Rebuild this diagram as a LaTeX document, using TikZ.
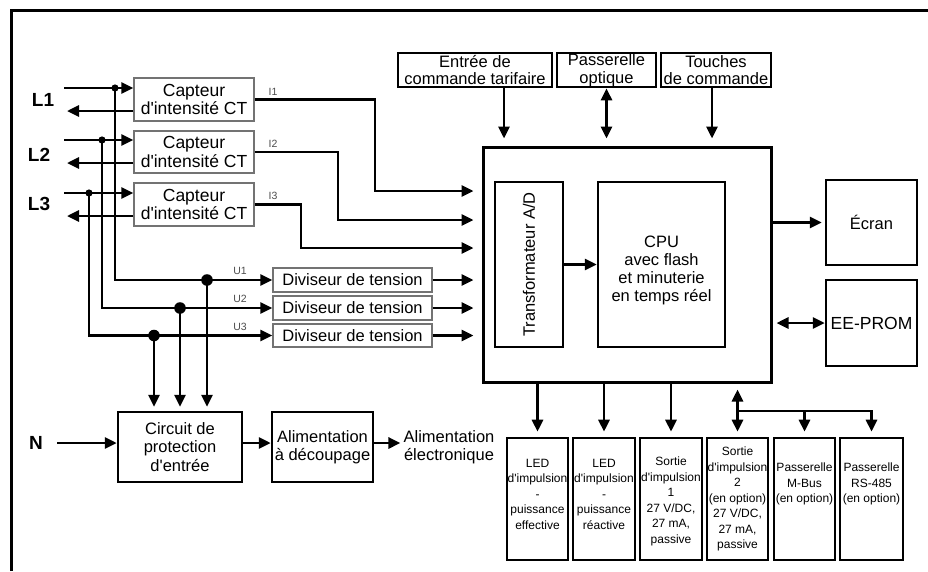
\documentclass[tikz,border=0pt]{standalone}
\usepackage{fontspec}
\setmainfont{Liberation Sans}[Ligatures=TeXOff]
\usetikzlibrary{arrows.meta,calc}
\begin{document}
\begin{tikzpicture}[x=1pt,y=-1pt,
  conn/.style={line width=2.8pt},
  arr/.style={conn,-{Triangle[length=12pt,width=11pt]}},
  darr/.style={conn,{Triangle[length=12pt,width=11pt]}-{Triangle[length=12pt,width=11pt]}},
  thinbox/.style={draw=black!55,line width=1.3pt,inner sep=0pt,align=center,font=\fontsize{16.5}{18}\selectfont},
  ctbox/.style={thinbox,font=\fontsize{17.5}{18.5}\selectfont},
  box/.style={draw,line width=2.5pt,inner sep=0pt,align=center,font=\fontsize{16.5}{18.5}\selectfont},
  topbox/.style={box,line width=2.7pt,minimum height=34pt,font=\fontsize{16.5}{17.5}\selectfont},
  bbox/.style={draw,line width=2.6pt,inner sep=0pt,minimum height=122pt},
  btext/.style={align=center,inner sep=0pt,font=\fontsize{12}{15.5}\selectfont},
  ctext/.style={align=center,inner sep=0pt,font=\fontsize{16.5}{18}\selectfont},
  plain/.style={align=center,inner sep=0pt,font=\fontsize{16.5}{18}\selectfont},
  lab/.style={inner sep=0pt,font=\fontsize{19}{19}\selectfont\bfseries},
  sig/.style={inner sep=0pt,text=black!70,font=\fontsize{10.5}{10.5}\selectfont}
]
\useasboundingbox (0,0) rectangle (928,571);
% frame
\draw[line width=3pt] (11,571) -- (11,10) -- (928,10);

% phase labels
\node[lab] (L1) at (43,100) {L1};
\node[lab] (L2) at (39,155) {L2};
\node[lab] (L3) at (39,204) {L3};
\node[lab] (N) at (36,443) {N};

% current sensors
\node[ctbox,minimum width=120pt,minimum height=43pt] (ct1) at (194,99.5) {Capteur\\d'intensité CT};
\node[ctbox,minimum width=120pt,minimum height=42pt] (ct2) at (194,152) {Capteur\\d'intensité CT};
\node[ctbox,minimum width=120pt,minimum height=43pt] (ct3) at (194,204.5) {Capteur\\d'intensité CT};

\coordinate (l1i) at (64,88);  \coordinate (l1o) at (67,111);
\coordinate (l2i) at (64,140); \coordinate (l2o) at (67,163);
\coordinate (l3i) at (64,193); \coordinate (l3o) at (67,216);

\draw[arr] (l1i) -- (l1i -| ct1.west);
\draw[arr] (l1o -| ct1.west) -- (l1o);
\draw[arr] (l2i) -- (l2i -| ct2.west);
\draw[arr] (l2o -| ct2.west) -- (l2o);
\draw[arr] (l3i) -- (l3i -| ct3.west);
\draw[arr] (l3o -| ct3.west) -- (l3o);

% voltage dividers
\node[thinbox,minimum width=159pt,minimum height=24pt] (dv1) at (352.5,280) {Diviseur de tension};
\node[thinbox,minimum width=159pt,minimum height=24pt] (dv2) at (352.5,308) {Diviseur de tension};
\node[thinbox,minimum width=159pt,minimum height=23pt] (dv3) at (352.5,335.5) {Diviseur de tension};

\coordinate (j1) at (115,88);
\coordinate (j2) at (102,140);
\coordinate (j3) at (89,193);
\draw[arr] (j1) |- (dv1.west);
\draw[arr] (j2) |- (dv2.west);
\draw[arr] (j3) |- (dv3.west);
\fill (j1) circle (3.6pt);
\fill (j2) circle (3.6pt);
\fill (j3) circle (3.6pt);

\node[sig] (u1l) at (240,271) {U1};
\node[sig] (u2l) at (240,299) {U2};
\node[sig] (u3l) at (240,327) {U3};

% protection and power supply
\node[box,minimum width=124pt,minimum height=70pt] (prot) at (180,447) {Circuit de\\protection\\d'entrée};
\node[box,minimum width=101pt,minimum height=70pt] (alim) at (322.5,447) {Alimentation\\à découpage};
\node[plain] (elec) at (449,447) {Alimentation\\électronique};

\coordinate (u1) at (207,280);
\coordinate (u2) at (180,308);
\coordinate (u3) at (154,335.5);
\draw[arr,shorten >=4pt] (u1) -- (u1 |- prot.north);
\draw[arr,shorten >=4pt] (u2) -- (u2 |- prot.north);
\draw[arr,shorten >=4pt] (u3) -- (u3 |- prot.north);
\fill (u1) circle (5.8pt);
\fill (u2) circle (5.8pt);
\fill (u3) circle (5.8pt);

\coordinate (nin) at (57,443);
\draw[arr] (nin) -- (nin -| prot.west);
\draw[arr] (prot.east |- nin) -- (nin -| alim.west);
\draw[arr,shorten >=3pt] (alim.east |- nin) -- (nin -| elec.west);

% main unit
\node[draw,line width=3pt,minimum width=288pt,minimum height=235pt,inner sep=0pt] (main) at (627,264.5) {};
\node[box,minimum width=68pt,minimum height=165pt,
  label={[ctext,rotate=90]center:Transformateur A/D}] (adc) at (529,264.5) {};
\node[box,minimum width=127pt,minimum height=165pt,
  label={[ctext,yshift=-6pt]center:{CPU\\avec flash\\et minuterie\\en temps réel}}] (cpu) at (661.5,264.5) {};
\draw[arr] (adc.east) -- (cpu.west);

% current signals
\node[sig] (i1l) at (273,92) {I1};
\node[sig] (i2l) at (273,144) {I2};
\node[sig] (i3l) at (273,196) {I3};
\coordinate (c1) at (375,191);
\coordinate (c2) at (338,220);
\coordinate (c3) at (301,248);
\draw[arr,shorten >=8pt] (ct1.east) -| (c1) -- (c1 -| main.west);
\draw[arr,shorten >=8pt] (ct2.east) -| (c2) -- (c2 -| main.west);
\draw[arr,shorten >=8pt] (ct3.east) -| (c3) -- (c3 -| main.west);

\draw[arr,shorten >=8pt] (dv1.east) -- (dv1.east -| main.west);
\draw[arr,shorten >=8pt] (dv2.east) -- (dv2.east -| main.west);
\draw[arr,shorten >=8pt] (dv3.east) -- (dv3.east -| main.west);

% display and memory
\node[box,minimum width=91pt,minimum height=85pt] (ecran) at (871.5,222.5) {Écran};
\node[box,minimum width=91pt,minimum height=86pt,font=\fontsize{17.5}{18}\selectfont] (ee) at (871.5,323) {EE-PROM};
\draw[arr,shorten >=3pt] (main.east |- ecran.west) -- (ecran.west);
\draw[darr,shorten <=4pt] (main.east |- ee.west) -- (ee.west);

% top inputs
\node[topbox,minimum width=154pt] (tarif) at (475,70) {Entrée de\\commande tarifaire};
\node[topbox,minimum width=99pt] (optq) at (606.5,70) {Passerelle\\optique};
\node[topbox,minimum width=110pt] (touch) at (716,70) {Touches\\de commande};
\draw[arr,shorten >=7pt] ([xshift=29pt]tarif.south) -- ([xshift=29pt]tarif.south |- main.north);
\draw[darr,shorten >=7pt] (optq.south) -- (optq.south |- main.north);
\draw[arr,shorten >=7pt] ([xshift=-4pt]touch.south) -- ([xshift=-4pt]touch.south |- main.north);

% bottom outputs
\node[bbox,minimum width=61pt,label={[btext,yshift=5pt]center:{LED\\d'impulsion\\-\\puissance\\effective}}] (b1) at (537.5,499) {};
\node[bbox,minimum width=62pt,label={[btext,yshift=5pt]center:{LED\\d'impulsion\\-\\puissance\\réactive}}] (b2) at (604,499) {};
\node[bbox,minimum width=62pt,label={[btext,yshift=-2.5pt]center:{Sortie\\d'impulsion\\1\\27 V/DC,\\27 mA,\\passive}}] (b3) at (671,499) {};
\node[bbox,minimum width=61pt,label={[btext]center:{Sortie\\d'impulsion\\2\\(en option)\\27 V/DC,\\27 mA,\\passive}}] (b4) at (737.5,499) {};
\node[bbox,minimum width=61pt,label={[btext,yshift=15pt]center:{Passerelle\\M-Bus\\(en option)}}] (b5) at (804.5,499) {};
\node[bbox,minimum width=63pt,label={[btext,yshift=15pt]center:{Passerelle\\RS-485\\(en option)}}] (b6) at (871.5,499) {};

\draw[arr,shorten >=5pt] (main.south -| b1.north) -- (b1.north);
\draw[arr,shorten >=5pt] (main.south -| b2.north) -- (b2.north);
\draw[arr,shorten >=5pt] (main.south -| b3.north) -- (b3.north);
\draw[darr,shorten <=6pt,shorten >=5pt] (main.south -| b4.north) -- (b4.north);
\coordinate (br) at (737.5,411);
\draw[arr,shorten >=5pt] (br) -| (b6.north);
\draw[arr,shorten >=5pt] (br -| b5.north) -- (b5.north);
\end{tikzpicture}
\end{document}
